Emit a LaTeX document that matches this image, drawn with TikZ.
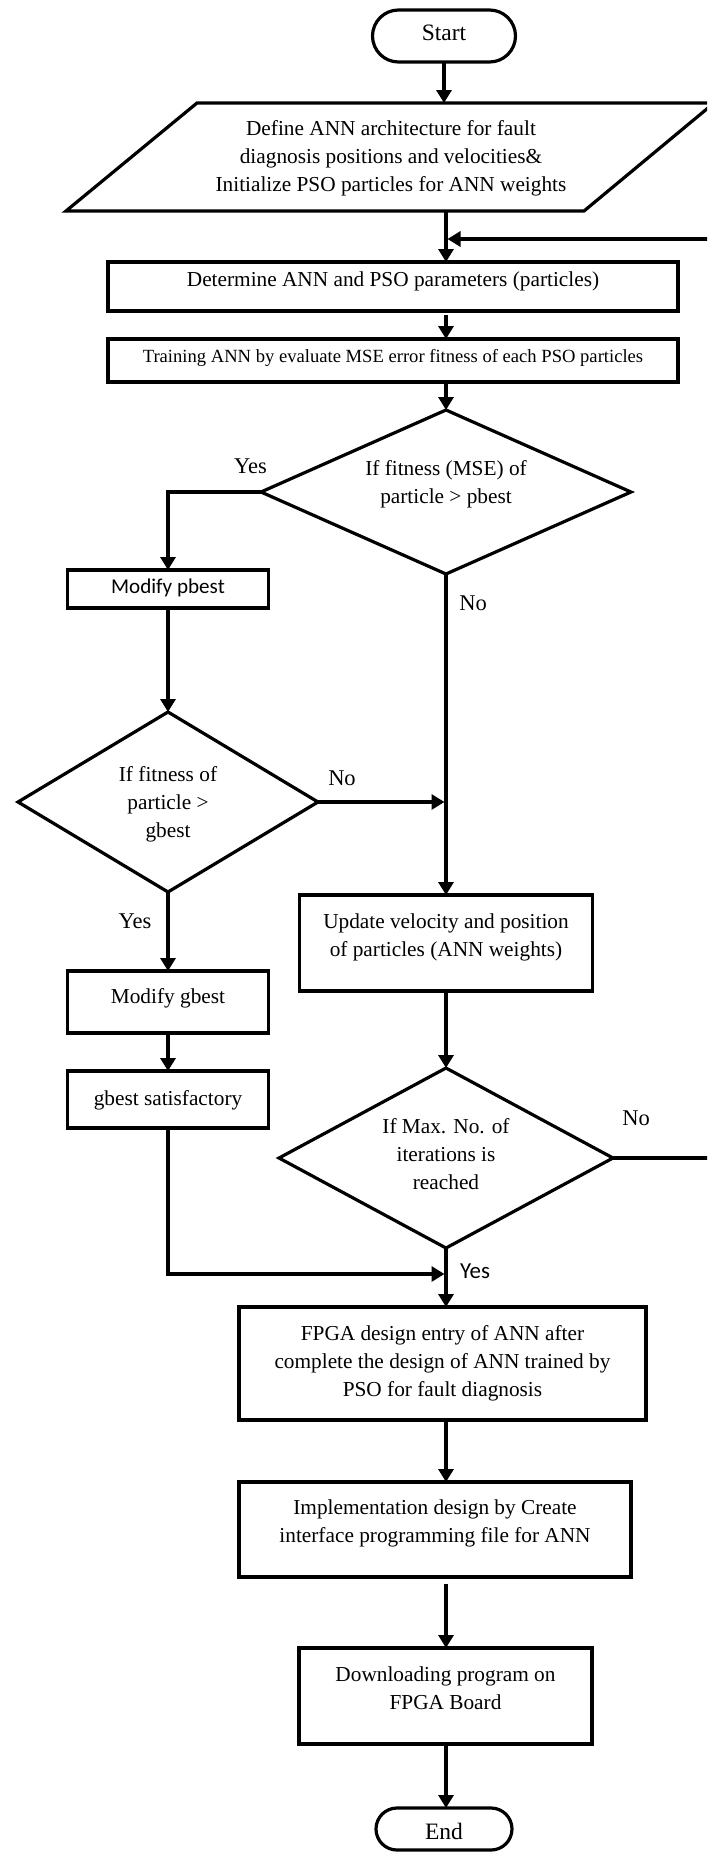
\documentclass[tikz,border=0pt]{standalone}
\usepackage{fontspec}
\setmainfont{Liberation Serif}
\newfontfamily\calib{Carlito}
\usetikzlibrary{arrows.meta,shapes.geometric,shapes.misc}
\begin{document}
\begin{tikzpicture}[x=1pt,y=1pt,
  every node/.style={inner sep=0pt, outer sep=0pt},
  ln/.style={line width=3.2pt},
  arr/.style={ln, -{Triangle[length=13pt,width=15pt]}},
  mainfont/.style={font=\fontsize{21.3}{28}\selectfont},
  box/.style={draw, ln, rectangle, align=center, mainfont},
  term/.style={draw, ln, rounded rectangle, font=\fontsize{23.5}{28}\selectfont},
  dec/.style={draw, ln, diamond, align=center, mainfont},
  lab/.style={anchor=base, font=\fontsize{22.5}{27}\selectfont},
]
\path[use as bounding box, clip] (0,0) rectangle (707,-1852);

% terminals and boxes
\node[term, minimum width=143pt, minimum height=52pt, text height=16pt, text depth=6.6pt] (start) at (444,-36) {Start};

\coordinate (pTL) at (197,-103);
\coordinate (pTR) at (714,-103);
\coordinate (pBR) at (584,-211);
\coordinate (pBL) at (66,-211);
\draw[ln] (pTL) -- (pTR) -- (pBR) -- (pBL) -- cycle;
\node[mainfont, align=center, text height=71pt, text depth=5pt] (define) at (391,-158)
  {Define ANN architecture for fault\\ diagnosis positions and velocities\&\\ Initialize PSO particles for ANN weights};
\coordinate (ptop) at (444,-103);
\coordinate (pbot) at (446,-211);

\node[box, minimum width=570pt, minimum height=49pt, text height=15pt, text depth=16pt] (det) at (393,-286.5)
  {Determine ANN and PSO parameters (particles)};
\node[box, font=\fontsize{18.6}{24}\selectfont, minimum width=570pt, minimum height=43pt, text height=13pt, text depth=8.6pt] (train) at (393,-360.5)
  {Training ANN by evaluate MSE error fitness of each PSO particles};

\node[dec, aspect=2.26, minimum width=370pt, minimum height=164pt, text height=43pt, text depth=21pt] (d1) at (446,-492)
  {If fitness (MSE) of\\ particle > pbest};

\node[box, font=\calib\fontsize{21.1}{26}\selectfont, minimum width=201pt, minimum height=38pt, text height=15pt, text depth=7pt] (mpb) at (168,-589)
  {Modify pbest};

\node[dec, aspect=1.667, minimum width=300pt, minimum height=180pt, text height=71.4pt, text depth=0pt] (d2) at (168,-802)
  {If fitness of\\ particle >\\ gbest};

\node[box, minimum width=293pt, minimum height=96pt, text height=43pt, text depth=17pt] (upd) at (446,-943)
  {Update velocity and position\\ of particles (ANN weights)};

\node[box, minimum width=201pt, minimum height=62pt, text height=15pt, text depth=13pt] (mgb) at (168,-1002)
  {Modify gbest};
\node[box, minimum width=201pt, minimum height=57pt, text height=15pt, text depth=4pt] (gsat) at (168,-1099.5)
  {gbest satisfactory};

\node[dec, aspect=1.856, minimum width=334pt, minimum height=180pt, text height=71pt, text depth=9pt] (d3) at (446,-1158)
  {If Max. No. of\\ iterations is\\ reached};

\node[box, minimum width=407pt, minimum height=113pt, text height=71pt, text depth=6pt] (fpga) at (442.5,-1363.5)
  {FPGA design entry of ANN after\\ complete the design of ANN trained by\\ PSO for fault diagnosis};
\node[box, minimum width=392pt, minimum height=95pt, text height=43pt, text depth=18pt] (impl) at (435,-1529.5)
  {Implementation design by Create\\ interface programming file for ANN};
\node[box, minimum width=293pt, minimum height=96pt, text height=43pt, text depth=17pt] (down) at (445.5,-1696)
  {Downloading program on\\ FPGA Board};
\node[term, minimum width=136pt, minimum height=42pt, text height=20pt, text depth=0pt] (end) at (444,-1829) {End};

% helper coordinates
\coordinate (col) at (446,0);
\coordinate (rx) at (725,0);
\coordinate (loopin) at (446,-239);
\coordinate (join) at (446,-1274);

% connectors
\draw[arr] (start.south) -- (ptop);
\draw[arr] (pbot) -- (pbot |- det.north);
\draw[arr, shorten >=1.5pt] (d3.east) -- (d3.east -| rx) |- (loopin);
\draw[arr, shorten <=4pt] (col |- det.south) -- (col |- train.north);
\draw[arr] (col |- train.south) -- (d1.north);
\draw[arr] (d1.west) -| (mpb.north);
\draw[arr] (d1.south) -- (upd.north);
\draw[arr] (mpb.south) -- (d2.north);
\draw[arr, shorten >=1.5pt] (d2.east) -- (d2.east -| d1.south);
\draw[arr] (d2.south) -- (mgb.north);
\draw[arr] (mgb.south) -- (gsat.north);
\draw[arr, shorten >=1.5pt] (gsat.south) |- (join);
\draw[arr] (upd.south) -- (d3.north);
\draw[arr] (d3.south) -- (d3.south |- fpga.north);
\draw[arr] (col |- fpga.south) -- (col |- impl.north);
\draw[arr, shorten <=7pt] (col |- impl.south) -- (col |- down.north);
\draw[arr] (col |- down.south) -- (col |- end.north);

% labels
\node[lab] (yes1) at (250.5,-473) {Yes};
\node[lab] (no1) at (473,-610) {No};
\node[lab] (no2) at (342,-785) {No};
\node[lab] (yes2) at (135,-928) {Yes};
\node[lab] (no3) at (636,-1125) {No};
\node[lab, font=\calib\fontsize{22.9}{27}\selectfont] (yes3) at (475,-1278) {Yes};
\end{tikzpicture}
\end{document}
